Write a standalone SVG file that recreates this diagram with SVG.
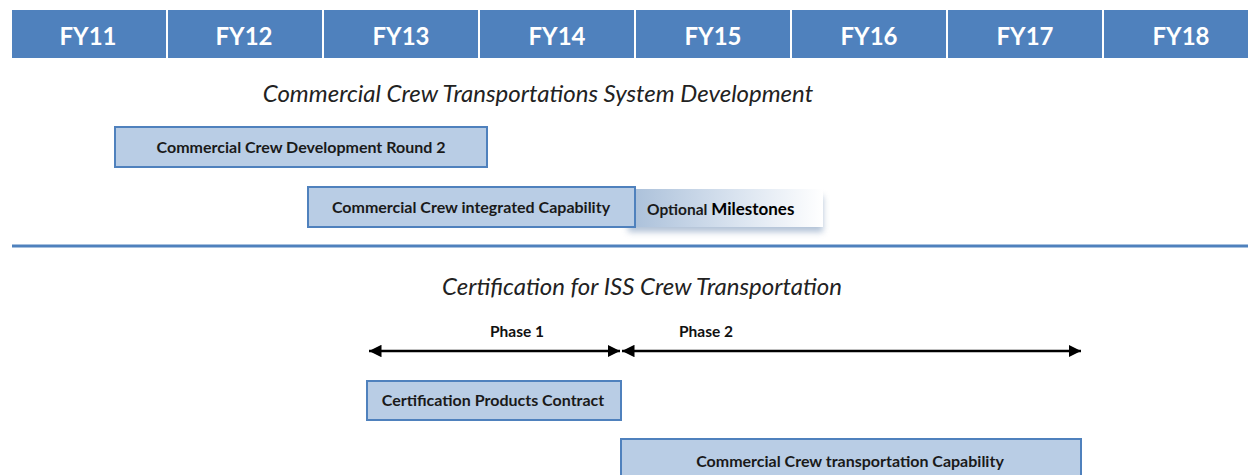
<svg xmlns="http://www.w3.org/2000/svg" width="1248" height="475" viewBox="0 0 1248 475">
<style>
.hdr{fill:#4f81bd}
.hdrt{font-family:Lato,"Liberation Sans",sans-serif;font-weight:bold;font-size:24px;fill:#fff;text-anchor:middle}
.box{fill:#b9cde5;stroke:#4f81bd;stroke-width:2}
.bt{font-family:Lato,"Liberation Sans",sans-serif;font-weight:bold;font-size:16px;fill:#1a1a1a;text-anchor:middle}
.title{font-family:Lato,"Liberation Sans",sans-serif;font-style:italic;font-size:24px;fill:#222;text-anchor:middle}
.ph{font-family:Lato,"Liberation Sans",sans-serif;font-weight:bold;font-size:15.5px;fill:#111;text-anchor:middle}
.conn{stroke:#000;stroke-width:2.5;fill:none}
</style>
<defs>
<marker id="ah" viewBox="0 0 10 10" refX="10" refY="5" markerWidth="5" markerHeight="5" markerUnits="strokeWidth" orient="auto-start-reverse">
<path d="M0,0 L10,5 L0,10 z" fill="#000"/>
</marker>
<linearGradient id="sh" x1="0" y1="0" x2="1" y2="0">
<stop offset="0" stop-color="#a9bfd9"/>
<stop offset="0.6" stop-color="#dde6f1"/>
<stop offset="1" stop-color="#ffffff"/>
</linearGradient>
<filter id="blur" x="-10%" y="-30%" width="120%" height="160%"><feGaussianBlur stdDeviation="3"/></filter>
</defs>
<rect width="1248" height="475" fill="#fff"/>
<g id="header">
<rect class="hdr" x="12" y="10" width="154" height="48"/>
<rect class="hdr" x="168" y="10" width="154" height="48"/>
<rect class="hdr" x="324" y="10" width="154" height="48"/>
<rect class="hdr" x="480" y="10" width="154" height="48"/>
<rect class="hdr" x="636" y="10" width="154" height="48"/>
<rect class="hdr" x="792" y="10" width="154" height="48"/>
<rect class="hdr" x="948" y="10" width="154" height="48"/>
<rect class="hdr" x="1104" y="10" width="144" height="48"/>
<text class="hdrt" x="88" y="45">FY11</text>
<text class="hdrt" x="244" y="45">FY12</text>
<text class="hdrt" x="401" y="45">FY13</text>
<text class="hdrt" x="557" y="45">FY14</text>
<text class="hdrt" x="713" y="45">FY15</text>
<text class="hdrt" x="869" y="45">FY16</text>
<text class="hdrt" x="1025" y="45">FY17</text>
<text class="hdrt" x="1181" y="45">FY18</text>
</g>
<text class="title" x="538" y="102">Commercial Crew Transportations System Development</text>
<g id="ccdev2">
<rect class="box" x="115" y="127" width="372" height="40"/>
<text class="bt" x="301" y="153">Commercial Crew Development Round 2</text>
</g>
<g id="optional">
<rect x="628" y="196" width="195" height="36" fill="#9fb3cc" filter="url(#blur)" opacity="0.8"/>
<rect x="628" y="189" width="195" height="38" fill="url(#sh)"/>
<text x="647" y="215" font-family="Lato,'Liberation Sans',sans-serif" font-weight="bold" font-size="15.5" fill="#1a1a1a">Optional <tspan font-size="17" fill="#000">Milestones</tspan></text>
</g>
<g id="cccap">
<rect class="box" x="308" y="187" width="327" height="40"/>
<text class="bt" x="471" y="213">Commercial Crew integrated Capability</text>
</g>
<line x1="12" y1="246" x2="1248" y2="246" stroke="#4f81bd" stroke-width="3"/>
<text class="title" x="642" y="295">Certification for ISS Crew Transportation</text>
<g id="connectors">
<line class="conn" x1="369" y1="351" x2="620" y2="351" marker-start="url(#ah)" marker-end="url(#ah)"/>
<line class="conn" x1="622" y1="351" x2="1081" y2="351" marker-start="url(#ah)" marker-end="url(#ah)"/>
</g>
<text class="ph" x="517" y="337">Phase 1</text>
<text class="ph" x="706" y="337">Phase 2</text>
<g id="certprod">
<rect class="box" x="367" y="381" width="254" height="39"/>
<text class="bt" x="493" y="406">Certification  Products Contract</text>
</g>
<g id="cctrans">
<rect class="box" x="621" y="439" width="460" height="40"/>
<text class="bt" x="850" y="467">Commercial Crew transportation Capability</text>
</g>
</svg>
